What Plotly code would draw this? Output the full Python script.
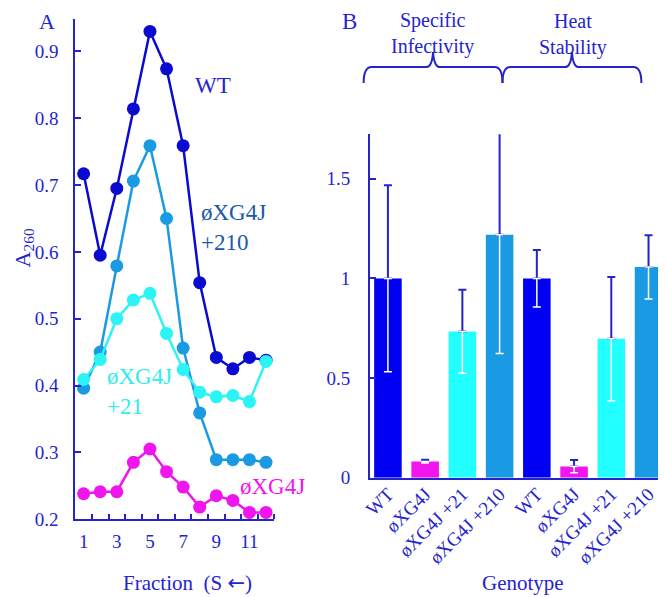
import plotly.graph_objects as go

W, H = 666, 597
# the photographed page shows the figure slightly offset/scaled; map target screen px -> paper
AX, KX, AY, KY = 14.0, 0.989, 9.0, 0.98
def SX(s): return ((s - AX) / KX) / W
def SY(s): return 1 - ((s - AY) / KY) / H

# ---------------- data: panel A ----------------
fractions = [1, 2, 3, 4, 5, 6, 7, 8, 9, 10, 11, 12]
a260_wt = [0.717, 0.595, 0.695, 0.814, 0.930, 0.874, 0.759, 0.554, 0.442, 0.425, 0.442, 0.438]
a260_p210 = [0.396, 0.450, 0.579, 0.706, 0.759, 0.650, 0.456, 0.359, 0.289, 0.289, 0.289, 0.285]
a260_p21 = [0.409, 0.439, 0.500, 0.528, 0.538, 0.478, 0.424, 0.390, 0.383, 0.385, 0.376, 0.436]
a260_g4j = [0.238, 0.241, 0.241, 0.285, 0.305, 0.271, 0.248, 0.218, 0.235, 0.228, 0.210, 0.210]
a_yticks = [0.2, 0.3, 0.4, 0.5, 0.6, 0.7, 0.8, 0.9]
a_xticks = [1, 3, 5, 7, 9, 11]

# ---------------- data: panel B ----------------
genotypes = ["WT", "øXG4J", "øXG4J +21", "øXG4J +210",
             "WT", "øXG4J", "øXG4J +21", "øXG4J +210"]
bar_values = [1.0, 0.082, 0.734, 1.22, 1.0, 0.057, 0.697, 1.057]
bar_errors = [0.468, 0.008, 0.21, 0.597, 0.143, 0.032, 0.31, 0.16]
b_yticks = [0, 0.5, 1, 1.5]
b_yticklabels = ["0", "0.5", "1", "1.5"]

C_WT_LINE = "#0a0ad0"
C_WT_BAR = "#0000f2"
C_MAG = "#f014ee"
C_CYAN = "#2cf4f4"
C_CYAN_BAR = "#22ffff"
C_MID = "#1a9ae2"
C_TXT = "#2424d0"
C_AX = "#2424c8"
FONT = "Liberation Serif"

fig = go.Figure()

def line_trace(y, color):
    return go.Scatter(x=fractions, y=y, mode="lines+markers",
                      line=dict(color=color, width=2.5),
                      marker=dict(color=color, size=13),
                      xaxis="x", yaxis="y", showlegend=False)

fig.add_trace(line_trace(a260_wt, C_WT_LINE))
fig.add_trace(line_trace(a260_p210, C_MID))
fig.add_trace(line_trace(a260_p21, C_CYAN))
fig.add_trace(line_trace(a260_g4j, C_MAG))

pos = list(range(len(genotypes)))
bar_colors = [C_WT_BAR, C_MAG, C_CYAN_BAR, C_MID, C_WT_BAR, C_MAG, C_CYAN_BAR, C_MID]
fig.add_trace(go.Bar(x=pos, y=bar_values, marker=dict(color=bar_colors, line=dict(width=0)),
                     xaxis="x2", yaxis="y2", showlegend=False))
fig.add_trace(go.Scatter(x=pos, y=bar_values, mode="markers",
                         marker=dict(size=1, color="rgba(0,0,0,0)"),
                         error_y=dict(type="data", symmetric=False, array=bar_errors,
                                      arrayminus=[0] * len(pos), color=C_AX, thickness=2, width=4),
                         xaxis="x2", yaxis="y2", showlegend=False))
fig.add_trace(go.Scatter(x=pos, y=bar_values, mode="markers",
                         marker=dict(size=1, color="rgba(0,0,0,0)"),
                         error_y=dict(type="data", symmetric=False, array=[0] * len(pos),
                                      arrayminus=bar_errors, color="#ffffff", thickness=1.5, width=4),
                         xaxis="x2", yaxis="y2", showlegend=False))

tickfont = dict(family=FONT, size=19, color=C_TXT)

fig.update_layout(
    width=W, height=H, margin=dict(l=0, r=0, t=0, b=0),
    paper_bgcolor="white", plot_bgcolor="white",
    font=dict(family=FONT, color=C_TXT),
    bargap=0.26,
    xaxis=dict(domain=[SX(73.4), SX(272.6)], range=[0.5, 12.5], showgrid=False, zeroline=False,
               showline=True, linecolor=C_AX, linewidth=2,
               tickvals=a_xticks, ticks="", tickfont=tickfont, ticklabelstandoff=4,
               minor=dict(tickvals=[v + 0.5 for v in fractions], ticks="inside",
                          ticklen=5, tickcolor=C_AX, tickwidth=1.5),
               anchor="y"),
    yaxis=dict(domain=[SY(519.3), SY(20)], range=[0.2, 0.9486], showgrid=False, zeroline=False,
               showline=True, linecolor=C_AX, linewidth=2,
               tickvals=a_yticks, tickformat=".1f", ticks="inside", ticklen=6,
               tickcolor=C_AX, tickwidth=1.5, tickfont=tickfont, ticklabelstandoff=11,
               anchor="x"),
    xaxis2=dict(domain=[SX(368.3), SX(666)], range=[-0.483, 7.505], showgrid=False, zeroline=False,
                showline=True, linecolor=C_AX, linewidth=2,
                tickvals=pos, ticktext=genotypes, ticks="", tickangle=-45,
                tickfont=dict(family=FONT, size=19, color=C_TXT), ticklabelstandoff=-4,
                anchor="y2"),
    yaxis2=dict(domain=[SY(478), SY(135)], range=[0, 1.724], showgrid=False, zeroline=False,
                showline=True, linecolor=C_AX, linewidth=2,
                tickvals=b_yticks, ticktext=b_yticklabels, ticks="inside", ticklen=6,
                tickcolor=C_AX, tickwidth=1.5, tickfont=tickfont, ticklabelstandoff=14,
                anchor="x2"),
)

def ann(text, sx, sy, size, color=C_TXT, xanchor="center", angle=0):
    fig.add_annotation(text=text, x=SX(sx), y=SY(sy), xref="paper", yref="paper",
                       showarrow=False, xanchor=xanchor, yanchor="middle",
                       textangle=angle, font=dict(family=FONT, size=size, color=color))

ann("A", 45, 22, 22)
ann("B", 348, 22, 23)
ann("A<sub>260</sub>", 22, 248, 22, angle=-90)
ann("Fraction  (S <span style=\"font-family:'DejaVu Sans'\">←</span>)", 186, 583, 21)
ann("Genotype", 522, 583, 21)
ann("WT", 211, 86, 23)
ann("øXG4J", 197, 213, 23, color="#2058a8", xanchor="left")
ann("+210", 197, 243, 23, color="#2058a8", xanchor="left")
ann("øXG4J", 103, 377, 23, color="#33ecec", xanchor="left")
ann("+21", 103, 407, 23, color="#33ecec", xanchor="left")
ann("øXG4J", 271, 487, 23, color=C_MAG)
ann("Specific<br>Infectivity", 431, 34, 20)
ann("Heat<br>Stability", 572, 35, 20)

def brace(x0, x1, ybase, yend, ytip):
    xm = (x0 + x1) / 2
    pts = [("M", x0, yend), ("Q", x0, ybase, x0 + 8, ybase), ("L", xm - 7, ybase),
           ("Q", xm - 1, ybase, xm, ytip), ("Q", xm + 1, ybase, xm + 7, ybase),
           ("L", x1 - 8, ybase), ("Q", x1, ybase, x1, yend)]
    s = ""
    for p in pts:
        cmd = p[0]
        coords = p[1:]
        s += cmd + " " + " ".join(
            f"{SX(coords[i]):.5f},{SY(coords[i+1]):.5f}" for i in range(0, len(coords), 2)) + " "
    fig.add_shape(type="path", path=s, xref="paper", yref="paper",
                  line=dict(color=C_AX, width=2))

brace(362, 501, 68, 84, 53)
brace(501, 640, 68, 84, 53)

fig.write_html("out.html")
